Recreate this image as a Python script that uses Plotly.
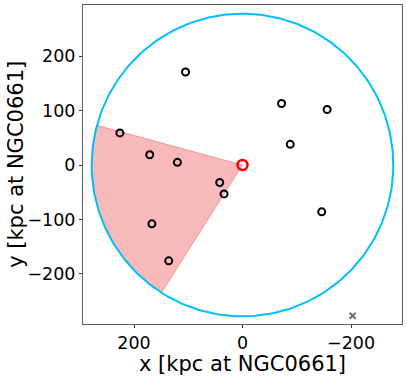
import numpy as np
import plotly.graph_objects as go

# satellite positions [kpc at NGC0661]
sat_x = [105, -72, -156, -88, -146, 226, 171, 120, 42, 34, 167, 136]
sat_y = [171, 113, 102, 38, -86, 59, 19, 5, -32, -53, -108, -176]

host_x = [0]
host_y = [0]

cross_x = [-203]
cross_y = [-277]

r_vir = 278
wedge_angles = [15.2, -57.5]  # degrees, start/end of shaded sector

t = np.linspace(0, 2 * np.pi, 361)
circ_x = r_vir * np.cos(t)
circ_y = r_vir * np.sin(t)

a = np.radians(np.linspace(wedge_angles[0], wedge_angles[1], 100))
wedge_x = np.concatenate([[0], r_vir * np.cos(a), [0]])
wedge_y = np.concatenate([[0], r_vir * np.sin(a), [0]])

fig = go.Figure()

fig.add_trace(go.Scatter(
    x=wedge_x, y=wedge_y, mode="lines", fill="toself",
    fillcolor="rgba(240,128,128,0.55)",
    line=dict(color="rgba(240,128,128,0.7)", width=1),
    hoverinfo="skip"
))

fig.add_trace(go.Scatter(
    x=circ_x, y=circ_y, mode="lines",
    line=dict(color="#00BFFF", width=2),
    hoverinfo="skip"
))

fig.add_trace(go.Scatter(
    x=sat_x, y=sat_y, mode="markers",
    marker=dict(symbol="circle-open", size=7, color="black", line=dict(width=2))
))

fig.add_trace(go.Scatter(
    x=host_x, y=host_y, mode="markers",
    marker=dict(symbol="circle-open", size=10, color="red", line=dict(width=2.5))
))

fig.add_trace(go.Scatter(
    x=cross_x, y=cross_y, mode="markers",
    marker=dict(symbol="x-thin-open", size=6, color="#707070", line=dict(width=2))
))

axis_common = dict(
    showgrid=False, zeroline=False, showline=True, mirror=True,
    linecolor="#606060", linewidth=1, automargin=False,
    ticks="outside", ticklen=3, tickwidth=1, tickcolor="#333",
    tickfont=dict(size=17.5, color="black"),
)

fig.update_layout(
    width=407, height=376,
    margin=dict(l=83, r=5, t=5, b=52),
    paper_bgcolor="white", plot_bgcolor="white",
    font=dict(family="DejaVu Sans", color="black"),
    showlegend=False,
    xaxis=dict(
        range=[294, -294], tickvals=[200, 0, -200],
        ticktext=["200", "0", "\u2212200"],
        **axis_common
    ),
    yaxis=dict(
        range=[-292, 294], tickvals=[200, 100, 0, -100, -200],
        ticktext=["200", "100", "0", "\u2212100", "\u2212200"],
        **axis_common
    ),
    annotations=[
        dict(text="x [kpc at NGC0661]", xref="paper", yref="paper",
             x=0.5, y=-0.124, yanchor="middle", showarrow=False,
             font=dict(size=21)),
        dict(text="y [kpc at NGC0661]", xref="paper", yref="paper",
             x=-0.212, y=0.5, xanchor="center", textangle=-90, showarrow=False,
             font=dict(size=21)),
    ],
)

fig.write_html("out.html", config={"displayModeBar": False},
               post_script="document.body.style.margin='0';")
